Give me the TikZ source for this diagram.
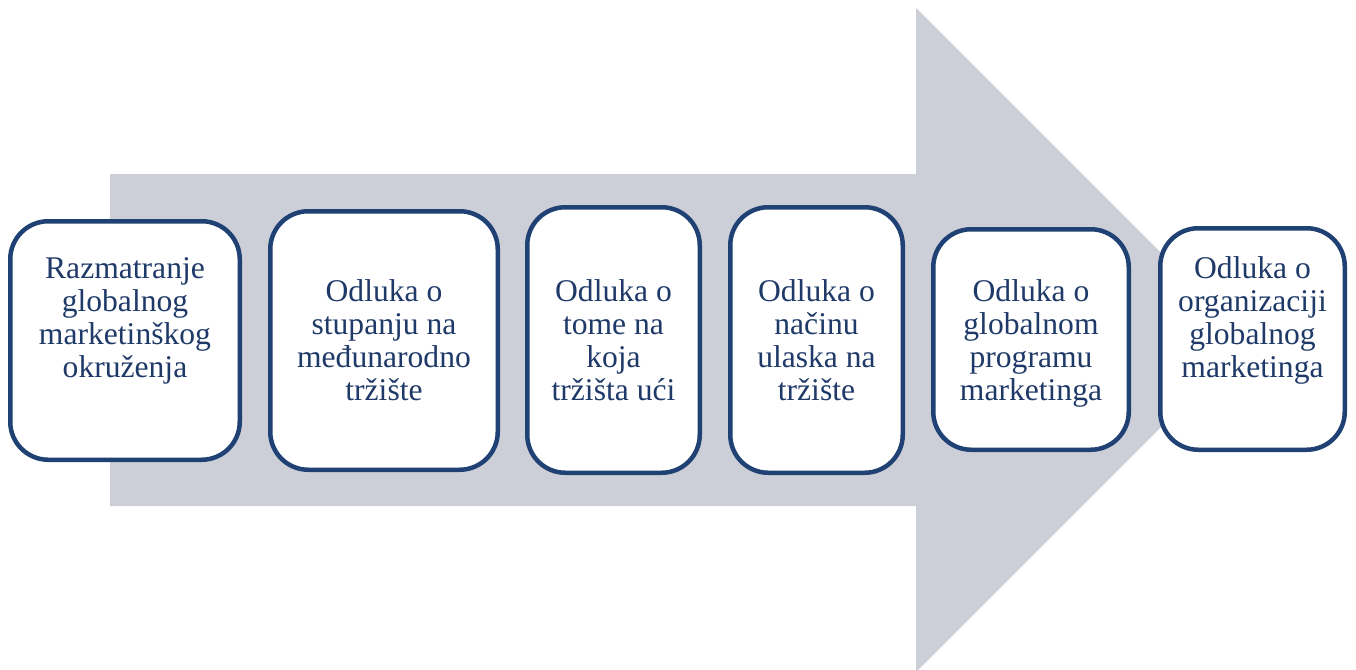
\documentclass[tikz,border=0pt]{standalone}
\usepackage{fontspec}
\setmainfont{Liberation Serif}
\definecolor{arrowgray}{RGB}{204,207,216}
\definecolor{boxblue}{RGB}{31,65,115}
\definecolor{txtblue}{RGB}{31,58,104}
\tikzset{
  stagebox/.style={draw=boxblue, line width=4.5pt, fill=white, rounded corners=38pt, inner sep=0pt},
  stagetext/.style={text=txtblue, align=center, inner sep=0pt, font=\fontsize{31.6}{33}\selectfont}
}
\begin{document}
\begin{tikzpicture}[x=1pt,y=-1pt]
\useasboundingbox (0,0) rectangle (1356,669);
\begin{scope}
\clip (0,0) rectangle (1356,669);
\fill[arrowgray] (110,174) -- (916,174) -- (916,8) -- (1248,340) -- (916,672) -- (916,506) -- (110,506) -- cycle;
\end{scope}
\node[stagebox, minimum width=229.5pt, minimum height=238.5pt] (b1) at (125,340.5) {};
\node[stagebox, minimum width=227.5pt, minimum height=258.5pt] (b2) at (384,340.5) {};
\node[stagebox, minimum width=172.5pt, minimum height=265.5pt] (b3) at (613.5,340) {};
\node[stagebox, minimum width=172.5pt, minimum height=265.5pt] (b4) at (816.5,340) {};
\node[stagebox, minimum width=195.5pt, minimum height=220.5pt] (b5) at (1031,339.5) {};
\node[stagebox, minimum width=184.5pt, minimum height=221.5pt] (b6) at (1252.5,339) {};
\node[stagetext] (t1) at ([yshift=20pt]b1.center) {Razmatranje\\globalnog\\marketinškog\\okruženja};
\node[stagetext] (t2) at (b2.center) {Odluka o\\stupanju na\\međunarodno\\tržište};
\node[stagetext] (t3) at (b3.center) {Odluka o\\tome na\\koja\\tržišta ući};
\node[stagetext] (t4) at (b4.center) {Odluka o\\načinu\\ulaska na\\tržište};
\node[stagetext] (t5) at ([yshift=-4pt]b5.center) {Odluka o\\globalnom\\programu\\marketinga};
\node[stagetext] (t6) at ([yshift=19pt]b6.center) {Odluka o\\organizaciji\\globalnog\\marketinga};
\end{tikzpicture}
\end{document}
